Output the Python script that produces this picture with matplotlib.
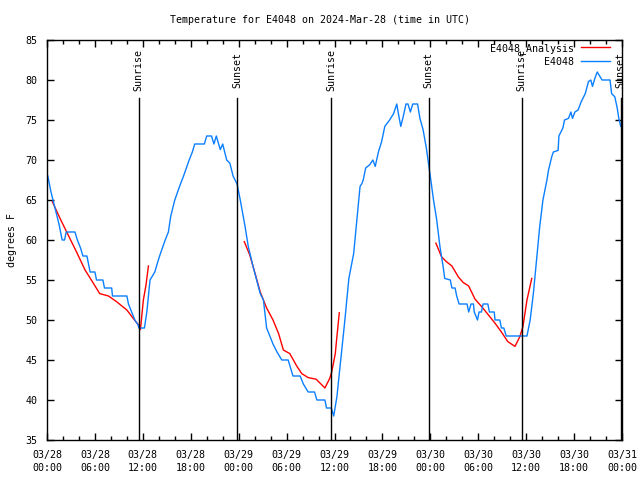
import numpy as np
import matplotlib
matplotlib.use("Agg")
import matplotlib.pyplot as plt
import matplotlib.dates as mdates

title = "Temperature for E4048 on 2024-Mar-28 (time in UTC)"
start = np.datetime64("2024-03-28T00:00")

# observed E4048 (hours since start, deg F)
obs_hours = [0.1, 0.5, 1.0, 1.5, 1.9, 2.2, 2.4, 3.5, 3.8, 4.2, 4.5, 5.0, 5.4, 6.0, 6.2, 7.0, 7.2, 8.1,
             8.2, 10.0, 10.2, 10.6, 11.0, 11.4, 11.5, 12.2, 12.5, 12.9, 13.5, 13.7, 14.1, 14.8, 15.2,
             15.5, 16.0, 16.6, 17.1, 17.8, 18.2, 18.5, 19.7, 20.0, 20.6, 20.9, 21.2, 21.7, 22.0, 22.5,
             22.9, 23.3, 23.8, 24.2, 24.8, 25.2, 25.8, 26.7, 27.1, 27.5, 27.9, 28.3, 28.8, 29.4, 30.2,
             30.8, 31.7, 32.1, 32.7, 33.5, 33.8, 34.8, 35.0, 35.6, 35.9, 36.3, 36.7, 37.3, 37.8, 38.4,
             38.8, 39.2, 39.4, 39.6, 39.9, 40.4, 40.8, 41.1, 41.5, 41.9, 42.3, 42.9, 43.4, 43.8, 44.0,
             44.3, 44.6, 44.95, 45.2, 45.5, 45.8, 46.4, 46.7, 47.1, 47.5, 47.95, 48.4, 48.8, 49.2, 49.6,
             49.8, 50.5, 50.7, 51.1, 51.3, 51.6, 52.6, 52.8, 53.1, 53.4, 53.5, 53.9, 54.1, 54.4, 54.6,
             55.2, 55.4, 56.0, 56.1, 56.7, 56.9, 57.2, 57.5, 60.1, 60.5, 60.9, 61.3, 61.7, 62.1, 62.6,
             62.8, 63.2, 63.4, 64.0, 64.1, 64.6, 64.8, 65.3, 65.6, 65.8, 66.1, 66.5, 66.9, 67.4, 67.8,
             68.1, 68.3, 68.6, 68.9, 69.5, 70.5, 70.7, 71.1, 71.4, 71.6, 71.85]
obs_temps = [68, 66, 64, 62, 60, 60, 61, 61, 60, 59, 58, 58, 56, 56, 55, 55, 54, 54,
             53, 53, 52, 51, 50, 49.4, 49, 49, 51, 55, 56, 56.7, 58, 60, 61,
             63, 65, 66.7, 68, 70, 71, 72, 72, 73, 73, 72, 73, 71.3, 72, 70,
             69.6, 68, 67, 65, 61.7, 59.2, 56.7, 53.3, 52.5, 49, 48, 47, 46, 45, 45,
             43, 43, 42, 41, 41, 40, 40, 39, 39, 38, 40.4, 44.2, 50, 55.2, 58.3,
             62.5, 66.7, 67, 67.5, 69, 69.4, 70, 69.2, 71, 72.3, 74.2, 75, 75.8, 77, 75.8,
             74.2, 75.4, 77, 77, 76, 77, 77, 75.2, 73.75, 71.5, 68.3, 65, 62.5, 59.2, 56.7,
             55.2, 55, 54, 54, 53, 52, 52, 51, 52, 52, 51, 50, 51, 51, 52,
             52, 51, 51, 50, 50, 49, 49, 48, 48, 50, 53.3, 57.5, 61.7, 65, 67.5,
             68.75, 70.4, 71, 71.2, 73, 74, 75, 75.2, 76, 75.2, 76, 76.25, 77.3, 78.3, 79.8,
             80, 79.2, 80.2, 81, 80, 80, 78.3, 77.9, 76.5, 75.2, 74.2]

# analysis E4048_Analysis (NaN separates the three segments)
ana_hours = [0.66, 1.63, 2.46, 3.7, 4.76, 5.8, 6.6, 7.7, 8.7, 10.0, 10.8, 11.6, 11.7, 12.06, 12.4, 12.7,
             np.nan,
             24.7, 25.4, 26.0, 26.7, 27.5, 28.3, 29.0, 29.6, 30.4, 31.3, 31.9, 32.7, 33.7, 34.2, 34.8,
             35.4, 35.65, 36.1, 36.3, 36.6,
             np.nan,
             48.7, 49.4, 50.0, 50.7, 51.5, 52.1, 52.8, 53.6, 54.4, 55.3, 56.1, 56.9, 57.7, 58.6, 59.2,
             59.6, 60.1, 60.7]
ana_temps = [64.8, 62.7, 61.0, 58.5, 56.25, 54.6, 53.3, 53.0, 52.3, 51.25, 50.2, 49.2, 48.8, 52.5, 54.4, 56.75,
             np.nan,
             59.8, 58.1, 56.0, 53.5, 51.5, 50.0, 48.3, 46.25, 45.8, 44.2, 43.3, 42.8, 42.6, 42.1, 41.5,
             42.7, 43.5, 45.8, 47.9, 50.9,
             np.nan,
             59.6, 57.9, 57.3, 56.75, 55.4, 54.7, 54.25, 52.6, 51.7, 50.6, 49.6, 48.5, 47.3, 46.7, 47.9,
             49.2, 52.5, 55.2]

event_hours = [11.5, 23.8, 35.55, 47.8, 59.45, 71.85]
event_labels = ["Sunrise", "Sunset", "Sunrise", "Sunset", "Sunrise", "Sunset"]

y_ticks = [35, 40, 45, 50, 55, 60, 65, 70, 75, 80, 85]


def to_dt(hours):
    out = []
    for h in hours:
        if np.isnan(h):
            out.append(np.datetime64("NaT"))
        else:
            out.append(start + np.timedelta64(int(round(h * 60)), "m"))
    return np.array(out, dtype="datetime64[m]")


plt.rcParams['font.family'] = ['DejaVu Sans Mono']
FS = 7.2

fig = plt.figure(figsize=(6.4, 4.8), dpi=100)
ax = fig.add_axes([47 / 640, 40 / 480, 575 / 640, 400 / 480])

blue = "#0a7fff"
red = "#ff0000"

ax.plot(to_dt(ana_hours), ana_temps, color=red, lw=1.0, label="E4048_Analysis")
ax.plot(to_dt(obs_hours), obs_temps, color=blue, lw=1.0, label="E4048")

for h, lab in zip(event_hours, event_labels):
    t = start + np.timedelta64(int(round(h * 60)), "m")
    ax.plot([t, t], [35, 77.8], color="black", lw=1.0)
    ax.text(t, 81.2, lab, rotation=90, ha="center", va="center", fontsize=FS, clip_on=False)

x0 = start
x1 = start + np.timedelta64(72, "h")
ax.set_xlim(x0, x1)
ax.set_ylim(35, 85)
ax.set_yticks(y_ticks)
ax.xaxis.set_major_locator(mdates.HourLocator(byhour=[0, 6, 12, 18]))
ax.xaxis.set_minor_locator(mdates.HourLocator(interval=2))
ax.xaxis.set_major_formatter(mdates.DateFormatter("%m/%d\n%H:%M"))

ax.tick_params(which="both", direction="in", top=True, right=True, labelsize=FS, width=1.0)
ax.tick_params(which="major", length=5, pad=7)
ax.tick_params(which="minor", length=3)
for lbl in ax.get_xticklabels():
    lbl.set_linespacing(1.35)
for s in ax.spines.values():
    s.set_linewidth(1.0)

ax.set_ylabel("degrees F", fontsize=FS, labelpad=6)
fig.text(0.5, 1 - 20 / 480, title, ha="center", va="center", fontsize=FS)

leg = ax.legend(loc="upper right", bbox_to_anchor=((610 - 47) / 575, (440 - 43) / 400),
                frameon=False, markerfirst=False, fontsize=FS, handlelength=2.9,
                handletextpad=0.7, borderaxespad=0, borderpad=0, labelspacing=0.3)

fig.savefig("out.png", dpi=100)
